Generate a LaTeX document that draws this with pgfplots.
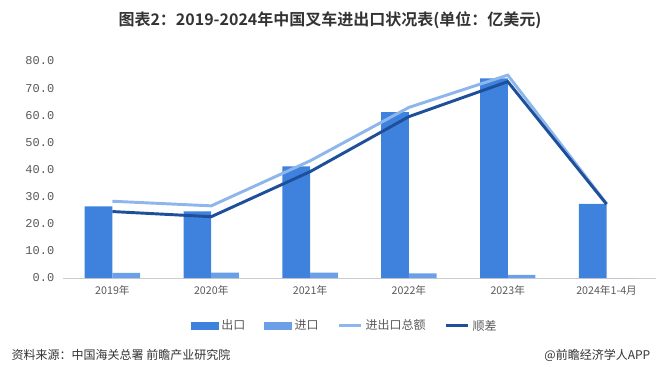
\documentclass[border=0pt]{standalone}
\usepackage{pgfplots}
\pgfplotsset{compat=1.18}
\usepackage{fontspec}
\setmainfont{Noto Sans CJK SC}
\newfontfamily\cjk{Noto Sans CJK SC}
\newfontfamily\cjkb{Noto Sans CJK SC Bold}
\newfontfamily\monof{Liberation Mono}
\definecolor{expc}{HTML}{3F82DE}
\definecolor{impc}{HTML}{6BA0E8}
\definecolor{totc}{HTML}{8DB6EC}
\definecolor{balc}{HTML}{1D4F9A}
\definecolor{txtc}{HTML}{595959}
\begin{document}
\begin{tikzpicture}
\path[use as bounding box] (-47.25pt,-73.5pt) rectangle (447.75pt,208.5pt);
\begin{axis}[
  at={(0pt,0pt)}, anchor=south west,
  scale only axis, width=444.75pt, height=162.75pt,
  xmin=-0.5, xmax=5.5, ymin=0, ymax=80,
  ytick={0,10,...,80},
  yticklabel style={/pgf/number format/fixed, /pgf/number format/fixed zerofill, /pgf/number format/precision=1, /pgf/number format/assume math mode=true,
    font=\monof\fontsize{9pt}{10pt}\selectfont, text=txtc, xshift=-3pt},
  xtick={0,1,2,3,4,5},
  xticklabels={2019年,2020年,2021年,2022年,2023年,2024年1-4月},
  xticklabel style={font=\cjk\fontsize{8pt}{10pt}\selectfont, text=txtc, yshift=-2pt},
  axis y line*=left,
  y axis line style={draw=none},
  axis x line*=bottom,
  x axis line style={draw=black!20, line width=0.75pt, -},
  major tick length=0pt,
  tick style={draw=none},
  clip=false,
  legend columns=4,
  legend style={at={(0.4755,-0.221)}, anchor=center, draw=none, fill=none,
    font=\cjk\fontsize{9pt}{11pt}\selectfont, text=txtc,
    /tikz/every even column/.append style={column sep=12pt}},
  legend cell align=left,
]
\addplot[ybar, bar width=0.28, bar shift=-0.14, fill=expc, draw=none,
  legend image code/.code={\fill[expc] (0pt,-3pt) rectangle (21pt,3pt);}]
  coordinates {(0,26.4) (1,24.6) (2,41.2) (3,61.2) (4,73.6) (5,27.3)};
\addlegendentry{出口}
\addplot[ybar, bar width=0.28, bar shift=0.14, fill=impc, draw=none,
  legend image code/.code={\fill[impc] (0pt,-3pt) rectangle (21pt,3pt);}]
  coordinates {(0,1.9) (1,2.0) (2,2.0) (3,1.7) (4,1.2) (5,0)};
\addlegendentry{进口}
\addplot[totc, line width=2.2pt, mark=none,
  legend image code/.code={\draw[totc, line width=2.2pt] (0pt,0pt) -- (17pt,0pt);}]
  coordinates {(0,28.3) (1,26.6) (2,43.2) (3,62.9) (4,74.8) (5,27.4)};
\addlegendentry{进出口总额}
\addplot[balc, line width=2.2pt, mark=none,
  legend image code/.code={\draw[balc, line width=2.2pt] (0pt,0pt) -- (17pt,0pt);}]
  coordinates {(0,24.5) (1,22.6) (2,39.2) (3,59.5) (4,72.4) (5,27.2)};
\addlegendentry{顺差}
\end{axis}
\node[font=\cjkb\fontsize{12pt}{14pt}\selectfont, text=black!80] at (200.25pt,193.5pt) {图表2：2019-2024年中国叉车进出口状况表(单位：亿美元)};
\node[font=\cjk\fontsize{9pt}{11pt}\selectfont, text=black!80, anchor=west] at (-42pt,-57.75pt) {资料来源：中国海关总署\ 前瞻产业研究院};
\node[font=\cjk\fontsize{9pt}{11pt}\selectfont, text=black!80, anchor=east] at (444pt,-57.75pt) {@前瞻经济学人APP};
\end{tikzpicture}
\end{document}
